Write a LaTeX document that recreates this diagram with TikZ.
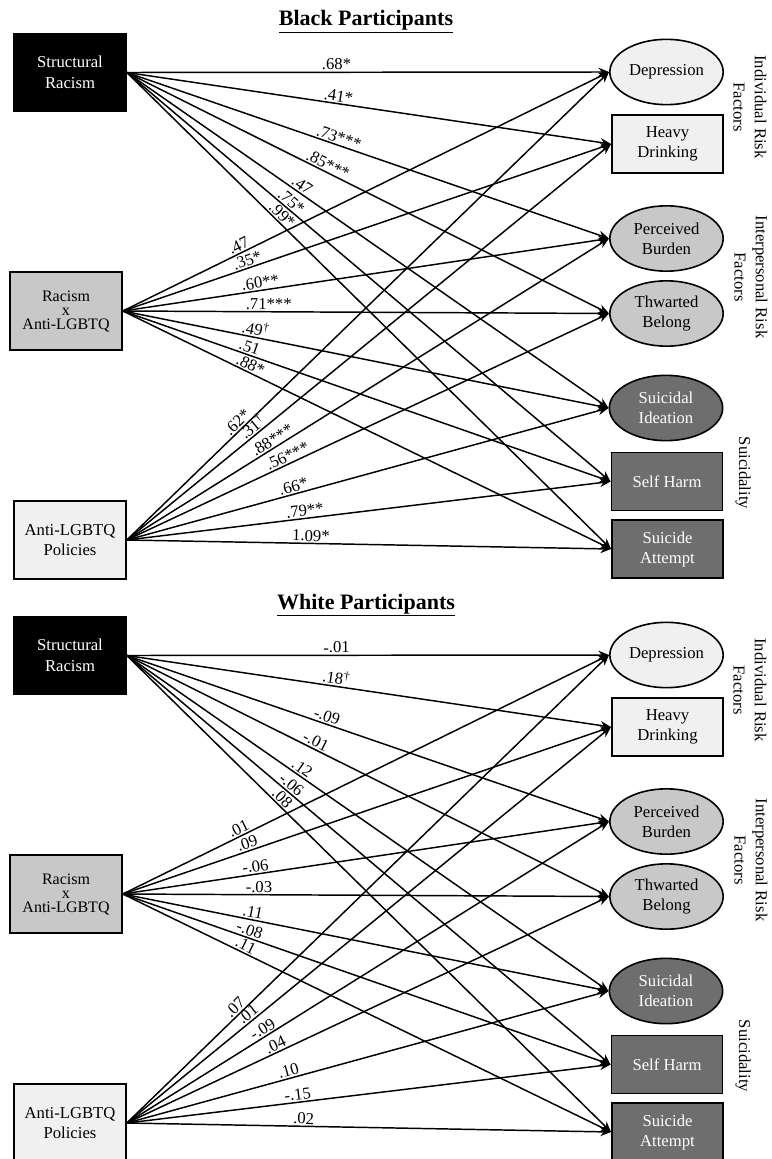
\documentclass[tikz,border=0pt]{standalone}
\usepackage{fontspec}
\setmainfont{Liberation Serif}
\usetikzlibrary{shapes.geometric,arrows.meta}
\definecolor{lightg}{HTML}{F0F0F0}
\definecolor{midg}{HTML}{C8C8C8}
\definecolor{darkg}{HTML}{6E6E6E}
\newcommand\drawpanel[3]{%
  \node[ttl] (T#1) at (366,{26+#2}) {\underline{#3}};
  \node[box,fill=black,text=white] (SR#1) at (70,{72.5+#2}) {Structural\\Racism};
  \node[box,fill=midg,font=\fontsize{12}{10.5}\selectfont] (RA#1) at (66,{311+#2}) {Racism\\x\\Anti-LGBTQ};
  \node[box,fill=lightg] (AP#1) at (70,{540+#2}) {Anti-LGBTQ\\Policies};
  \node[ell,fill=lightg] (Dep#1) at (666.5,{72+#2}) {Depression};
  \node[rbox,fill=lightg] (HD#1) at (667.5,{144+#2}) {Heavy\\Drinking};
  \node[ell,fill=midg] (PB#1) at (666.5,{238.5+#2}) {Perceived\\Burden};
  \node[ell,fill=midg] (TB#1) at (666.5,{313.5+#2}) {Thwarted\\Belong};
  \node[ell,fill=darkg,text=white] (SI#1) at (666,{408+#2}) {Suicidal\\Ideation};
  \node[rbox,fill=darkg,text=white] (SH#1) at (667,{481.5+#2}) {Self Harm};
  \node[rbox,fill=darkg,text=white] (SA#1) at (667.5,{549+#2}) {Suicide\\Attempt};
  \node[side] (FA#1) at (750,{107+#2}) {Individual Risk\\Factors};
  \node[side] (FB#1) at (751,{277+#2}) {Interpersonal Risk\\Factors};
  \node[side] (FC#1) at (743,{473+#2}) {Suicidality};
}
\begin{document}
\begin{tikzpicture}[x=0.75pt,y=-0.75pt,
  box/.style={draw,line width=1.2pt,minimum width=84pt,minimum height=58.5pt,inner sep=0pt,align=center,font=\fontsize{12.5}{15.5}\selectfont},
  ell/.style={ellipse,draw,line width=1.2pt,minimum width=85pt,minimum height=49pt,inner sep=0pt,align=center,font=\fontsize{12.5}{15}\selectfont},
  rbox/.style={draw,line width=1.2pt,minimum width=83.5pt,minimum height=43.5pt,inner sep=0pt,align=center,font=\fontsize{12.5}{15}\selectfont},
  arr/.style={line width=1.1pt,-{Stealth[length=8pt,width=6.5pt]}},
  lab/.style={sloped,above,inner sep=1pt,font=\fontsize{12.5}{14}\selectfont},
  side/.style={rotate=-90,align=center,font=\fontsize{12.5}{16}\selectfont},
  ttl/.style={font=\bfseries\fontsize{16.5}{18}\selectfont,anchor=base}]
\useasboundingbox (0,0) rectangle (771,1159);
\drawpanel{1}{0}{Black Participants}
\drawpanel{2}{583}{White Participants}
\foreach \s/\t/\p/\l in {
  SR1/Dep1/0.435/{.68*}, SR1/HD1/0.435/{.41*}, SR1/PB1/0.435/{.73***},
  SR1/TB1/0.41/{.85***}, SR1/SI1/0.355/{.47}, SR1/SH1/0.33/{.75*}, SR1/SA1/0.31/{.99*},
  RA1/Dep1/0.245/{.47}, RA1/HD1/0.26/{.35*}, RA1/PB1/0.285/{.60**}, RA1/TB1/0.30/{.71***},
  RA1/SI1/0.27/{.49\textsuperscript{†}}, RA1/SH1/0.255/{.51}, RA1/SA1/0.255/{.88*},
  AP1/Dep1/0.24/{.62*}, AP1/HD1/0.27/{.31\textsuperscript{†}}, AP1/PB1/0.31/{.88***},
  AP1/TB1/0.34/{.56***}, AP1/SI1/0.35/{.66*}, AP1/SH1/0.37/{.79**}, AP1/SA1/0.38/{1.09*},
  SR2/Dep2/0.435/{-.01}, SR2/HD2/0.43/{.18\textsuperscript{†}}, SR2/PB2/0.41/{-.09},
  SR2/TB2/0.385/{-.01}, SR2/SI2/0.355/{.12}, SR2/SH2/0.33/{-.06}, SR2/SA2/0.31/{.08},
  RA2/Dep2/0.245/{.01}, RA2/HD2/0.26/{.09}, RA2/PB2/0.275/{-.06}, RA2/TB2/0.28/{-.03},
  RA2/SI2/0.265/{.11}, RA2/SH2/0.255/{-.08}, RA2/SA2/0.245/{.11},
  AP2/Dep2/0.235/{.07}, AP2/HD2/0.26/{.01}, AP2/PB2/0.29/{-.09}, AP2/TB2/0.315/{.04},
  AP2/SI2/0.34/{.10}, AP2/SH2/0.355/{-.15}, AP2/SA2/0.365/{.02}}
  \draw[arr] (\s.east) -- node[lab,pos=\p] {\l} (\t.west);
\end{tikzpicture}
\end{document}
